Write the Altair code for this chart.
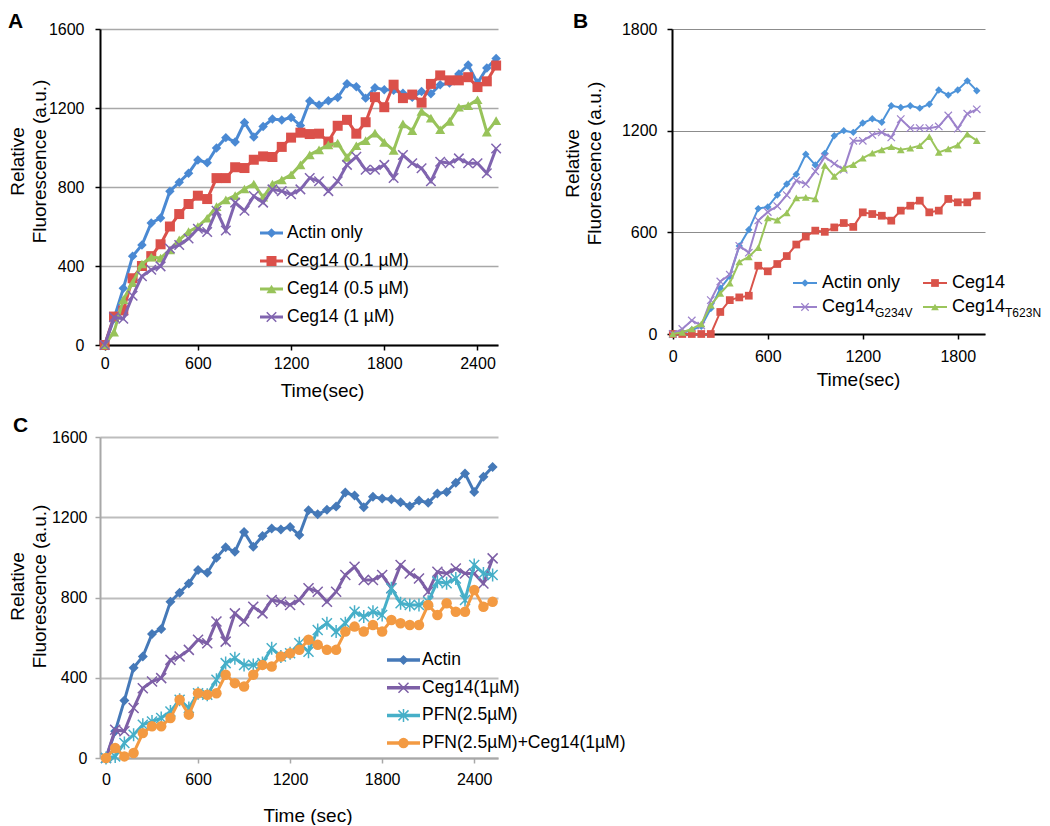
import altair as alt
import pandas as pd

FONT = "Liberation Sans"

# ---------------- data ----------------
time_ac = [0, 60, 120, 180, 240, 300, 360, 420, 480, 540, 600, 660, 720, 780, 840, 900,
           960, 1020, 1080, 1140, 1200, 1260, 1320, 1380, 1440, 1500, 1560, 1620, 1680,
           1740, 1800, 1860, 1920, 1980, 2040, 2100, 2160, 2220, 2280, 2340, 2400, 2460, 2520]

actin = [0, 133, 287, 450, 506, 618, 643, 779, 824, 870, 937, 923, 998, 1050, 1028, 1127,
         1053, 1106, 1144, 1139, 1152, 1111, 1235, 1215, 1237, 1253, 1323, 1308, 1250, 1302,
         1293, 1290, 1275, 1255, 1283, 1272, 1318, 1326, 1372, 1418, 1326, 1402, 1451]
ceg14_01 = [0, 144, 175, 338, 400, 450, 510, 600, 663, 714, 756, 739, 845, 845, 900, 896,
            938, 955, 952, 1003, 1050, 1075, 1068, 1070, 1030, 1110, 1140, 1070, 1128, 1255,
            1204, 1318, 1250, 1268, 1227, 1322, 1365, 1340, 1340, 1356, 1306, 1335, 1415]
ceg14_05 = [0, 65, 230, 315, 410, 445, 440, 482, 532, 574, 600, 642, 701, 735, 756, 790,
            815, 748, 815, 836, 862, 912, 963, 988, 1013, 1022, 950, 1009, 1035, 1073,
            1026, 985, 1120, 1085, 1183, 1149, 1090, 1132, 1204, 1212, 1242, 1078, 1136]
ceg14_1 = [0, 141, 133, 249, 348, 381, 398, 489, 506, 539, 589, 572, 680, 580, 721, 680,
           754, 721, 788, 779, 763, 788, 846, 829, 779, 829, 912, 953, 887, 887, 912, 846,
           962, 920, 895, 829, 928, 920, 945, 920, 920, 870, 995]
pfn = [0, 8, 75, 116, 166, 182, 199, 232, 290, 249, 323, 315, 390, 473, 497, 464, 464, 473,
       547, 506, 522, 572, 530, 638, 672, 630, 672, 729, 705, 729, 713, 846, 771, 763, 763,
       779, 879, 871, 895, 788, 962, 920, 912]
pfn_ceg14 = [0, 50, 8, 25, 124, 158, 158, 199, 290, 216, 323, 315, 323, 415, 373, 356, 415,
             464, 456, 506, 522, 539, 589, 564, 539, 539, 630, 655, 630, 663, 630, 688, 672,
             663, 663, 763, 713, 771, 729, 729, 837, 754, 779]

time_b = [0, 60, 120, 180, 240, 300, 360, 420, 480, 540, 600, 660, 720, 780, 840, 900, 960,
          1020, 1080, 1140, 1200, 1260, 1320, 1380, 1440, 1500, 1560, 1620, 1680, 1740, 1800,
          1860, 1920]
b_actin = [0, 5, 25, 45, 150, 270, 340, 520, 615, 740, 750, 820, 885, 943, 1061, 997, 1066,
           1170, 1200, 1190, 1245, 1270, 1250, 1347, 1337, 1347, 1333, 1356, 1440, 1410, 1440,
           1494, 1436]
b_ceg14 = [0, 0, 0, 0, 0, 130, 200, 216, 226, 403, 370, 413, 460, 528, 575, 610, 603, 629,
           655, 632, 718, 708, 698, 669, 728, 757, 787, 718, 728, 797, 777, 777, 816]
b_g234v = [0, 30, 80, 50, 200, 310, 350, 520, 480, 670, 720, 755, 820, 905, 885, 960, 1045,
           1005, 970, 1140, 1140, 1175, 1190, 1160, 1268, 1215, 1215, 1215, 1225, 1290, 1212,
           1300, 1326]
b_t623n = [0, 10, 30, 60, 170, 240, 300, 425, 455, 510, 685, 672, 715, 803, 806, 797, 995,
           930, 978, 1000, 1038, 1067, 1087, 1105, 1087, 1097, 1111, 1165, 1072, 1092, 1115,
           1180, 1141]

labels_a = ["Actin only", "Ceg14 (0.1 µM)", "Ceg14 (0.5 µM)", "Ceg14 (1 µM)"]
labels_b = [("Actin only", ""), ("Ceg14", ""), ("Ceg14", "G234V"), ("Ceg14", "T623N")]
labels_c = ["Actin", "Ceg14(1µM)", "PFN(2.5µM)", "PFN(2.5µM)+Ceg14(1µM)"]

ticks_t = [0, 600, 1200, 1800, 2400]
ticks_tb = [0, 600, 1200, 1800]
ticks_f = [0, 400, 800, 1200, 1600]
ticks_fb = [0, 600, 1200, 1800]


def long_df(t, cols):
    rows = []
    for name, vals in cols:
        for ti, vi in zip(t, vals):
            rows.append({"t": ti, "v": vi, "s": name})
    return pd.DataFrame(rows)


df_a = long_df(time_ac, [("s0", actin), ("s1", ceg14_01), ("s2", ceg14_05), ("s3", ceg14_1)])
df_b = long_df(time_b, [("s0", b_actin), ("s1", b_ceg14), ("s2", b_g234v), ("s3", b_t623n)])
df_c = long_df(time_ac, [("s0", actin), ("s1", ceg14_1), ("s2", pfn), ("s3", pfn_ceg14)])

# ---------------- styling ----------------
X_PATH = "M-1,-1L1,1M-1,1L1,-1"
STAR_PATH = "M-1,-1L1,1M-1,1L1,-1M0,-1.3L0,1.3"


def point(base, color, mk):
    shape, filled, size, sw = mk
    if filled:
        return base.mark_point(shape=shape, filled=True, size=size, color=color, opacity=1)
    return base.mark_point(shape=shape, filled=False, size=size, color=color,
                           strokeWidth=sw, opacity=1)


def axis_x(st, title, tx, ty, values):
    return alt.Axis(values=values, format="d", grid=False, domainColor=st["axis"], domainWidth=2,
                    tickColor=st["axis"], tickWidth=1.5, tickSize=5, labelFont=FONT,
                    labelFontSize=16, labelColor="#000", labelPadding=st["xpad"],
                    labelFlush=False, labelOverlap=False, title=title, titleFont=FONT,
                    titleFontSize=19, titleFontWeight="normal", titleColor="#000",
                    titleX=tx, titleY=ty, titleAlign="center", titleBaseline="middle")


def axis_y(st, tx, ty, values):
    return alt.Axis(values=values, format="d", grid=True, gridColor=st["grid"],
                    gridWidth=st["gridw"], domainColor=st["axis"], domainWidth=2,
                    tickColor=st["axis"], tickWidth=1.5, tickSize=5, labelFont=FONT,
                    labelFontSize=16, labelColor="#000", labelPadding=st["ypad"],
                    labelFlush=False, labelOverlap=False,
                    title=["Relative", "Fluorescence (a.u.)"], titleFont=FONT, titleFontSize=19,
                    titleFontWeight="normal", titleColor="#000", titleAngle=270,
                    titleX=tx, titleY=ty, titleAlign="center", titleBaseline="middle",
                    titleLineHeight=22)


def legend_items(entries, lw, fs):
    one = alt.Chart(alt.InlineData(values=[{"k": 0}]))
    out = []
    for (x0, x1, y, color, mk, text, tx, sub) in entries:
        out.append(one.mark_rule(color=color, strokeWidth=lw).encode(
            x=alt.value(x0), x2=alt.value(x1), y=alt.value(y)))
        out.append(point(one, color, mk).encode(x=alt.value((x0 + x1) / 2), y=alt.value(y)))
        out.append(one.mark_text(text=text, font=FONT, fontSize=fs, align="left",
                                 baseline="middle", color="#000").encode(
            x=alt.value(tx), y=alt.value(y)))
        if sub:
            out.append(one.mark_text(text=sub, font=FONT, fontSize=round(fs * 0.68), align="left",
                                     baseline="middle", color="#000").encode(
                x=alt.value(tx + 2.946 * fs), y=alt.value(y + 6)))
    return out


def panel(df, series, xdom, ydom, xvals, yvals, w, h, st, xtitle, xt, yt, letter, lxy, legend):
    xs = alt.Scale(domain=xdom, nice=False, zero=False)
    ys = alt.Scale(domain=ydom, nice=False, zero=False)
    xe = alt.X("t:Q", scale=xs, axis=axis_x(st, xtitle, xt[0], xt[1], xvals))
    ye = alt.Y("v:Q", scale=ys, axis=axis_y(st, yt[0], yt[1], yvals))
    layers = []
    for col, color, mk in series:
        base = alt.Chart(df).transform_filter(alt.datum.s == col)
        layers.append(base.mark_line(color=color, strokeWidth=st["lw"]).encode(x=xe, y=ye))
        layers.append(point(base, color, mk).encode(x=xe, y=ye))
    one = alt.Chart(alt.InlineData(values=[{"k": 0}]))
    layers.append(one.mark_text(text=letter, font=FONT, fontSize=21, fontWeight="bold",
                                align="left", baseline="alphabetic", color="#000").encode(
        x=alt.value(lxy[0]), y=alt.value(lxy[1])))
    layers += legend
    return alt.layer(*layers).properties(width=w, height=h)


# ---- Panel A ----
ser_a = [("s0", "#4A89D3", ("diamond", True, 90, 0)),
         ("s1", "#DB504A", ("square", True, 100, 0)),
         ("s2", "#98C35A", ("triangle-up", True, 100, 0)),
         ("s3", "#8064AF", (X_PATH, False, 90, 1.5))]
st_a = {"axis": "#000", "grid": "#A8A8A8", "gridw": 1.5, "lw": 3, "xpad": 5, "ypad": 11}
leg_a = legend_items(
    [(160, 183, 204 + 28 * i, ser_a[i][1], ser_a[i][2], labels_a[i], 187, "") for i in range(4)],
    3, 17.5)
chart_a = panel(df_a, ser_a, [-30, 2532], [0, 1600], ticks_t, ticks_f, 398, 316, st_a,
                "Time(sec)", (222, 45), (-83, 132), "A", (-92, -1), leg_a)

# ---- Panel B ----
ser_b = [("s0", "#4D93D9", ("diamond", True, 55, 0)),
         ("s1", "#D9534A", ("square", True, 60, 0)),
         ("s2", "#9C82CB", (X_PATH, False, 55, 1.2)),
         ("s3", "#9BC55B", ("triangle-up", True, 60, 0))]
st_b = {"axis": "#000", "grid": "#8C8C8C", "gridw": 1, "lw": 2, "xpad": 9, "ypad": 10}
pos_b = [(121, 145, 254, 150), (251, 275, 254, 280), (121, 145, 278, 150), (251, 275, 278, 280)]
leg_b = legend_items(
    [(pos_b[i][0], pos_b[i][1], pos_b[i][2], ser_b[i][1], ser_b[i][2], labels_b[i][0],
      pos_b[i][3], labels_b[i][1]) for i in range(4)],
    2, 18)
chart_b = panel(df_b, ser_b, [-5, 1972], [0, 1800], ticks_tb, ticks_fb, 313, 305, st_b,
                "Time(sec)", (186, 45), (-99.5, 134), "B", (-99, -1), leg_b)

# ---- Panel C ----
ser_c = [("s0", "#4579B8", ("diamond", True, 100, 0)),
         ("s1", "#7D5FA6", (X_PATH, False, 100, 1.5)),
         ("s2", "#46AFC8", (STAR_PATH, False, 100, 1.5)),
         ("s3", "#F39A42", ("circle", True, 110, 0))]
st_c = {"axis": "#A8A8A8", "grid": "#BDBDBD", "gridw": 2, "lw": 3, "xpad": 8, "ypad": 8}
leg_c = legend_items(
    [(287, 320, 223 + 27.7 * i, ser_c[i][1], ser_c[i][2], labels_c[i], 322, "") for i in range(4)],
    3.5, 17.5)
chart_c = panel(df_c, ser_c, [-39, 2555], [0, 1600], ticks_t, ticks_f, 398, 321, st_c,
                "Time (sec)", (207.5, 57), (-83, 149), "C", (-87, -5), leg_c)

chart = alt.concat(chart_a, chart_b, chart_c, columns=2, bounds="flush",
                   spacing={"row": 92, "column": 174}).properties(
    padding={"top": 3, "left": 0, "right": 0, "bottom": 0},
    background="white").configure_view(stroke=None)

chart.save("out.html", embed_options={"renderer": "svg", "actions": False})
